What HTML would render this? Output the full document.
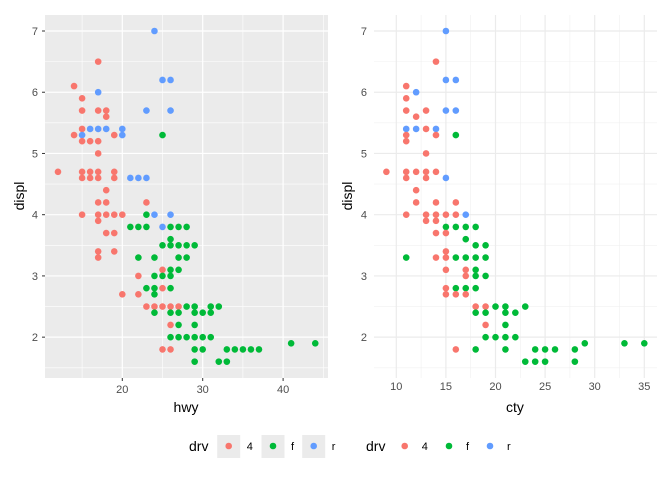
<!DOCTYPE html>
<html><head><meta charset="utf-8"><style>
body{margin:0;background:#fff;}
svg{display:block;font-family:"Liberation Sans",sans-serif;}
</style></head><body>
<svg id="c" width="672" height="480"></svg>
<script>
const hwyX=[24,17,14,17,15,25,26,15,17,18,18,23,26,15,16,17,18,20,14,15,19,20,25,15,16,17,17,12,15,16,17,19,15,16,17,19,21,22,23,18,17,18,23,15,17,18,19,20,23,24,26,
17,21,22,23,25,26,27,28,18,19,26,25,26,27,28,29,17,19,17,22,24,27,28,25,26,27,22,24,25,26,23,24,25,26,20,22,24,23,24,25,26,27,28,29,31,32,24,26,27,29,30,31,26,27,29,26,27,28,29,30,31,41,44,25,26,29,30,33,34,35,36,37,29,32,33];
const displL=[7.0,6.5,6.1,6.0,5.9,6.2,6.2,5.7,5.7,5.7,5.6,5.7,5.7,5.4,5.4,5.4,5.4,5.4,5.3,5.3,5.3,5.3,5.3,5.2,5.2,5.2,5.0,4.7,4.7,4.7,4.7,4.7,4.6,4.6,4.6,4.6,4.6,4.6,4.6,4.4,4.2,4.2,4.2,4,4,4,4,4,4,4,4,
3.9,3.8,3.8,3.8,3.8,3.8,3.8,3.8,3.7,3.7,3.6,3.5,3.5,3.5,3.5,3.5,3.4,3.4,3.3,3.3,3.3,3.3,3.3,3.1,3.1,3.1,3.0,3.0,3.0,3.0,2.8,2.8,2.8,2.8,2.7,2.7,2.7,2.5,2.5,2.5,2.5,2.5,2.5,2.5,2.5,2.5,2.4,2.4,2.4,2.4,2.4,2.4,2.2,2.2,2.2,2.0,2.0,2.0,2.0,2.0,2.0,1.9,1.9,1.8,1.8,1.8,1.8,1.8,1.8,1.8,1.8,1.8,1.6,1.6,1.6];
const drvL=["r","4","4","r","4","r","r","4","4","4","4","r","r","4","r","r","r","r","4","r","4","r","f","4","4","4","4","4","4","4","4","4","4","4","4","4","r","r","r","4","4","4","4","4","4","4","4","4","f","r","r",
"4","f","f","f","r","f","f","f","4","4","f","f","f","f","f","f","4","4","4","f","f","f","f","4","f","f","4","f","f","f","f","f","4","f","4","4","f","4","4","4","4","4","f","f","f","f","f","f","f","f","f","f","4","f","f","f","f","f","f","f","f","f","f","4","4","f","f","f","f","f","f","f","f","f","f"];
const ctyX=[15,14,15,16,11,12,11,11,13,15,16,12,11,12,13,14,11,14,16,11,13,9,11,12,13,14,11,13,15,12,12,14,16,11,13,14,15,16,17,
13,14,15,16,17,18,14,15,17,18,19,15,11,14,15,16,17,18,19,15,17,18,17,18,19,15,16,17,18,15,16,17,18,19,20,21,23,18,19,21,22,19,21,19,20,21,22,29,33,35,16,18,21,24,25,26,28,23,24,25,28];
const displR=[7.0,6.5,6.2,6.2,6.1,6.0,5.9,5.7,5.7,5.7,5.7,5.6,5.4,5.4,5.4,5.4,5.3,5.3,5.3,5.2,5.0,4.7,4.7,4.7,4.7,4.7,4.6,4.6,4.6,4.4,4.2,4.2,4.2,4,4,4,4,4,4,
3.9,3.9,3.8,3.8,3.8,3.8,3.7,3.7,3.6,3.5,3.5,3.4,3.3,3.3,3.3,3.3,3.3,3.3,3.3,3.1,3.1,3.1,3.0,3.0,3.0,2.8,2.8,2.8,2.8,2.7,2.7,2.7,2.5,2.5,2.5,2.5,2.5,2.4,2.4,2.4,2.4,2.2,2.2,2.0,2.0,2.0,2.0,1.9,1.9,1.9,1.8,1.8,1.8,1.8,1.8,1.8,1.8,1.6,1.6,1.6,1.6];
const drvR=["r","4","r","r","4","r","4","4","4","r","r","4","r","r","4","r","4","4","f","4","4","4","4","4","4","4","4","4","r","4","4","4","4","4","4","4","4","4","r",
"4","4","f","f","f","f","4","4","f","f","f","4","f","4","4","f","f","f","f","4","4","f","4","f","f","4","f","f","f","4","4","4","4","4","f","f","f","f","f","f","f","4","f","f","f","f","f","f","f","f","4","f","f","f","f","f","f","f","f","f","f"];
const xTicksL=[20,30,40], yTicks=[2,3,4,5,6,7], xTicksR=[10,15,20,25,30,35];
const colors={"4":"#F8766D","f":"#00BA38","r":"#619CFF"};
const svg=document.getElementById('c');const NS="http://www.w3.org/2000/svg";
function mk(t,a,p){const e=document.createElementNS(NS,t);for(const k in a)e.setAttribute(k,a[k]);(p||svg).appendChild(e);return e;}
const yS=v=>31+(7-v)*61.23;
const xL=v=>122.3+(v-20)*8.04;
const xR=v=>396.3+(v-10)*9.92;
// left panel
const pL=mk('rect',{x:45,y:15,width:283,height:363,fill:'#EBEBEB'});

const pR=mk('rect',{x:374,y:15,width:283,height:363,fill:'#fff'});

for(let v=1.5;v<=7;v+=1){mk('line',{x1:45,x2:328,y1:yS(v),y2:yS(v),stroke:'#fff','stroke-width':0.6});mk('line',{x1:374,x2:657,y1:yS(v),y2:yS(v),stroke:'#F0F0F0','stroke-width':0.6});}
[15,25,35,45].forEach(v=>mk('line',{x1:xL(v),x2:xL(v),y1:15,y2:378,stroke:'#fff','stroke-width':0.6}));
[12.5,17.5,22.5,27.5,32.5].forEach(v=>mk('line',{x1:xR(v),x2:xR(v),y1:15,y2:378,stroke:'#F0F0F0','stroke-width':0.6}));
yTicks.forEach(v=>{
 mk('line',{x1:45,x2:328,y1:yS(v),y2:yS(v),stroke:'#fff','stroke-width':1.2});
 mk('line',{x1:374,x2:657,y1:yS(v),y2:yS(v),stroke:'#EBEBEB','stroke-width':1.2});
 mk('line',{x1:42,x2:45,y1:yS(v),y2:yS(v),stroke:'#333','stroke-width':1});
 const t=mk('text',{x:38,y:yS(v)+4,'text-anchor':'end','font-size':11,fill:'#4D4D4D'});t.textContent=v;
 
 const t2=mk('text',{x:367,y:yS(v)+4,'text-anchor':'end','font-size':11,fill:'#4D4D4D'});t2.textContent=v;
 
});
xTicksL.forEach(v=>{
 mk('line',{x1:xL(v),x2:xL(v),y1:15,y2:378,stroke:'#fff','stroke-width':1.2});
 mk('line',{x1:xL(v),x2:xL(v),y1:378,y2:381,stroke:'#333','stroke-width':1});
 const t=mk('text',{x:xL(v),y:393,'text-anchor':'middle','font-size':11,fill:'#4D4D4D'});t.textContent=v;
 
});
xTicksR.forEach(v=>{
 mk('line',{x1:xR(v),x2:xR(v),y1:15,y2:378,stroke:'#EBEBEB','stroke-width':1.2});
 const t=mk('text',{x:xR(v),y:390,'text-anchor':'middle','font-size':11,fill:'#4D4D4D'});t.textContent=v;
 
});
hwyX.forEach((v,i)=>{const c=mk('circle',{cx:xL(v),cy:yS(displL[i]),r:3.3,fill:colors[drvL[i]]});
 });
ctyX.forEach((v,i)=>{const c=mk('circle',{cx:xR(v),cy:yS(displR[i]),r:3.3,fill:colors[drvR[i]]});
 });
function txt(x,y,s,size,name,rot,anchor){const t=mk('text',{x:x,y:y,'font-size':size,fill:'#000','text-anchor':anchor||'middle'});
 if(rot)t.setAttribute('transform','rotate(-90 '+x+' '+y+')');t.textContent=s;
 }
txt(186,412,'hwy',14,'x-axis-title-left');
txt(515,412,'cty',14,'x-axis-title-right');
txt(24,196,'displ',14,'y-axis-title-left',true);
txt(352,196,'displ',14,'y-axis-title-right',true);
// legends
txt(189,451,'drv',14,'legend-title-left',false,'start');
txt(366,451,'drv',14,'legend-title-right',false,'start');
const keys=['4','f','r'];
const keyL=[228.7,273,313.7], keyR=[404.7,449,490];
keys.forEach((k,i)=>{
 mk('rect',{x:keyL[i]-11.5,y:435,width:23,height:23,fill:'#EBEBEB'});
 const c=mk('circle',{cx:keyL[i],cy:446,r:3.3,fill:colors[k]});
 
 txt(keyL[i]+18,450,k,11,'legend-label-'+k,false,'start');
 const c2=mk('circle',{cx:keyR[i],cy:446,r:3.3,fill:colors[k]});
 
 txt(keyR[i]+17,450,k,11,'legend-label-'+k,false,'start');
});
</script>
</body></html>
